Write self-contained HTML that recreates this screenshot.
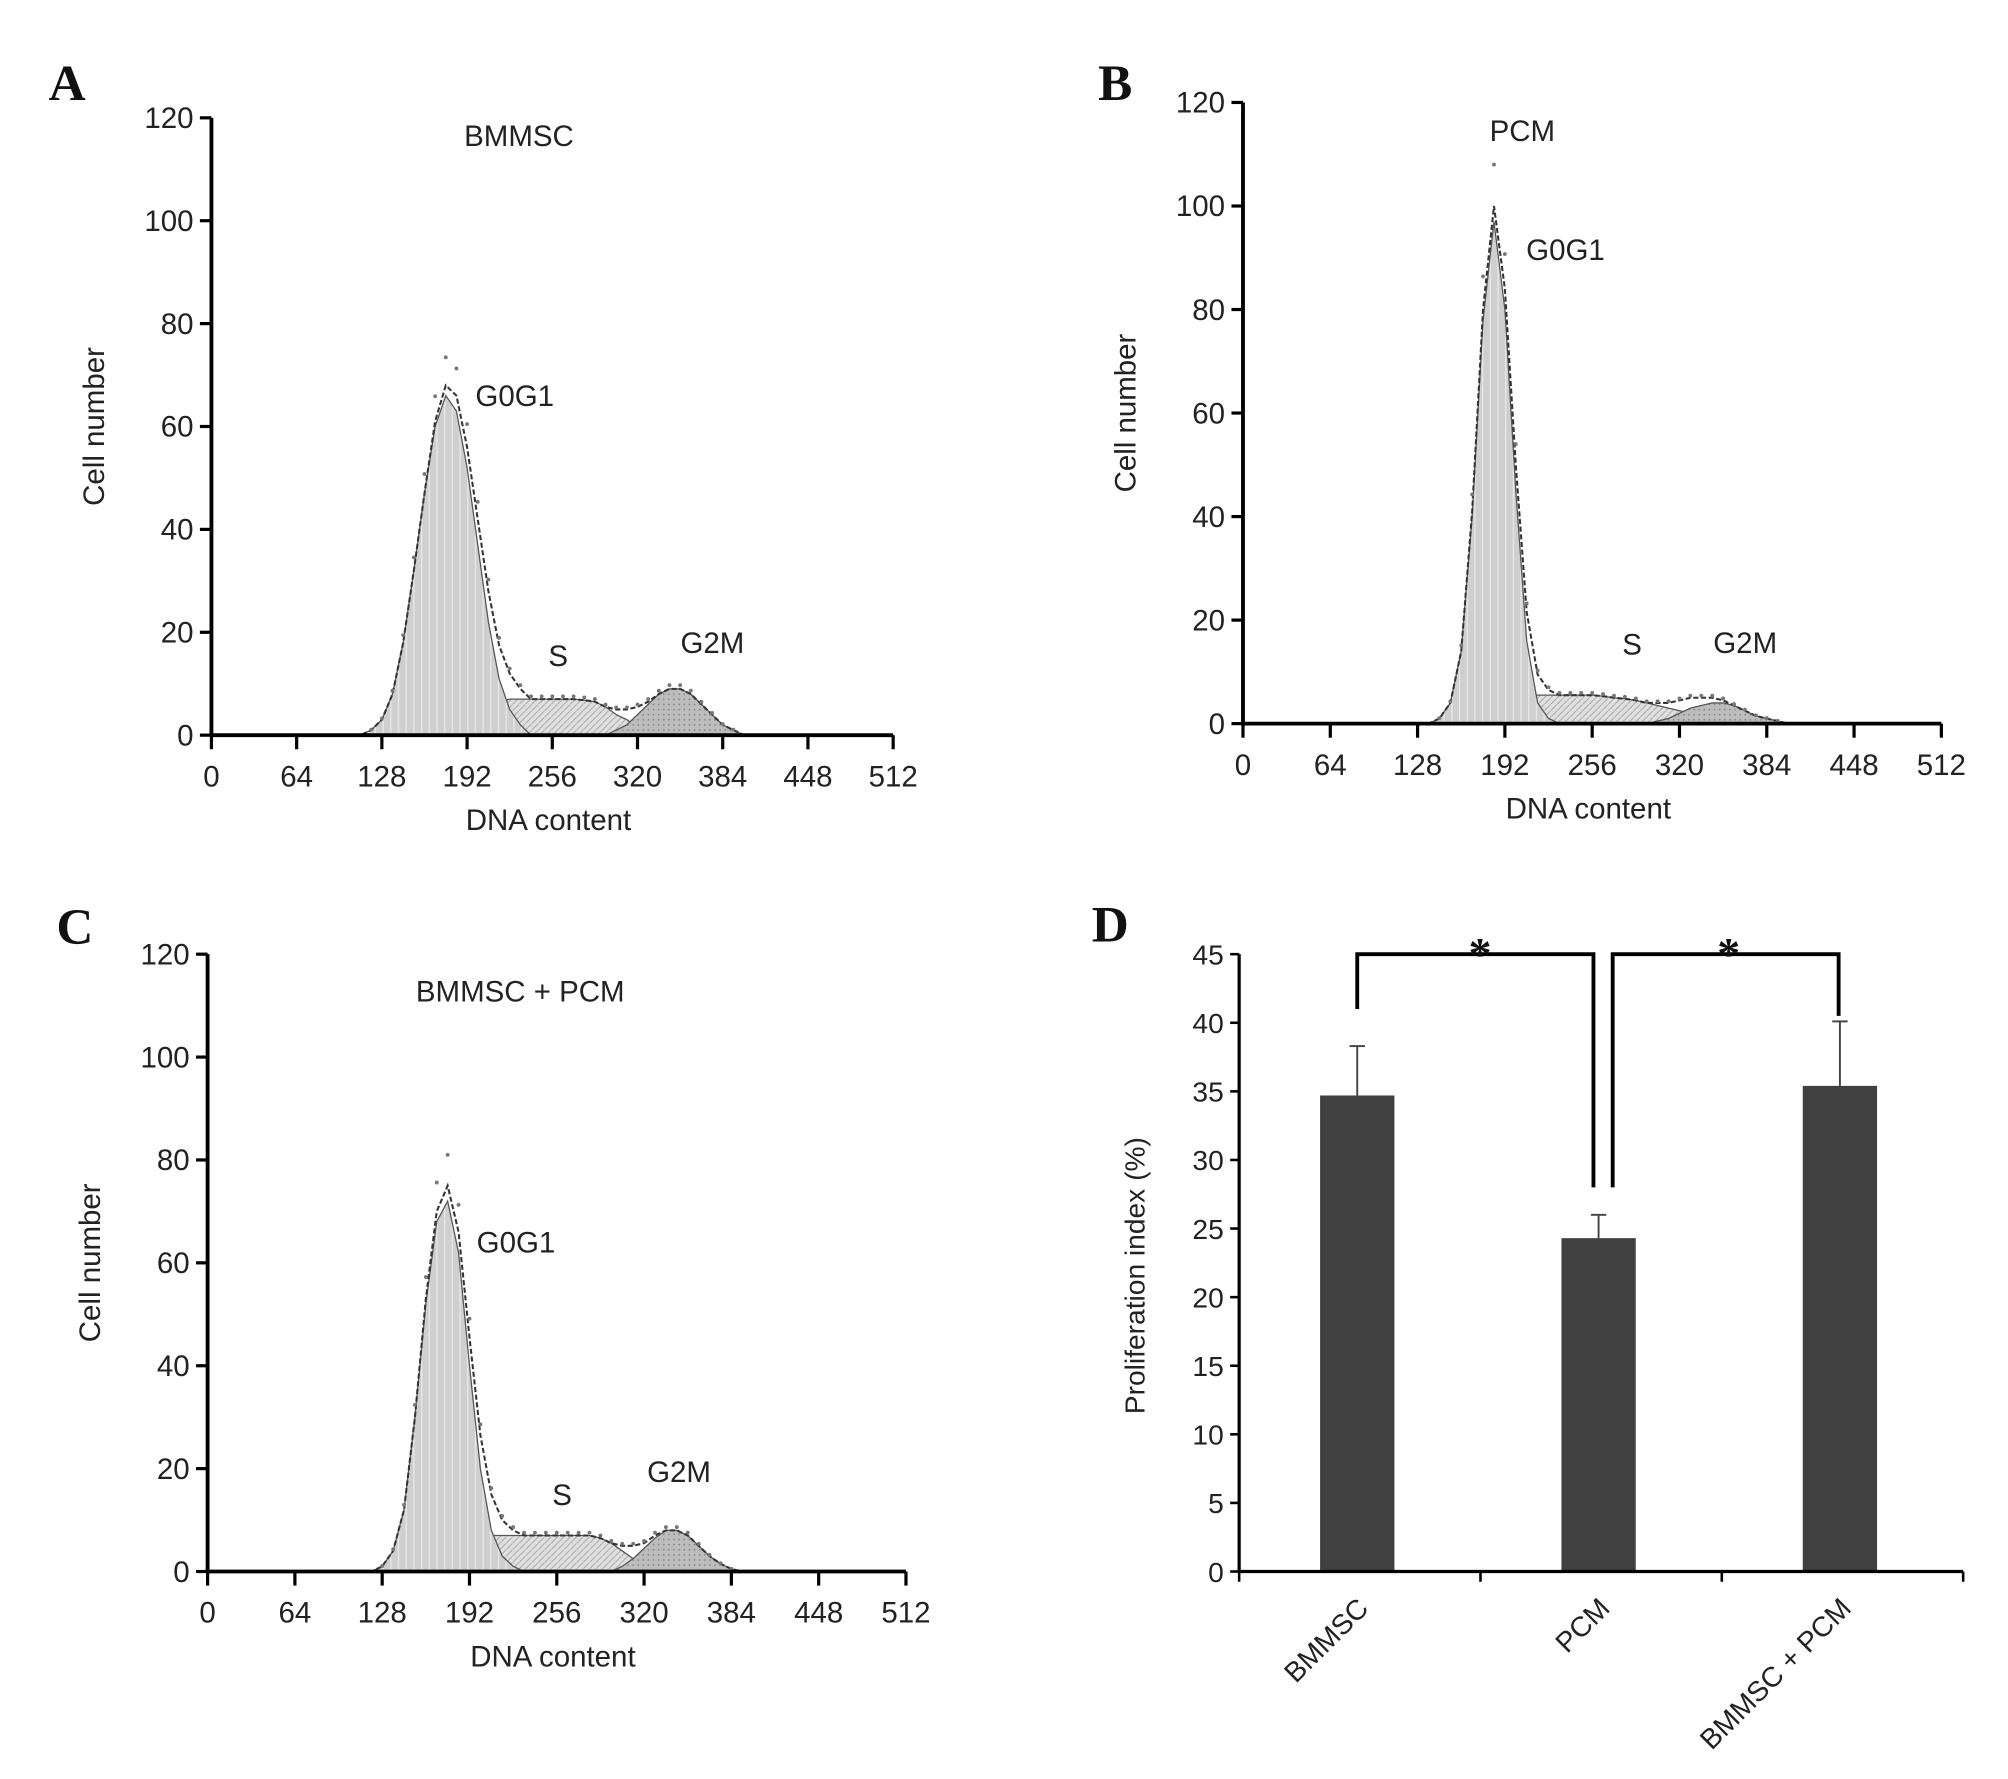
<!DOCTYPE html>
<html><head><meta charset="utf-8">
<style>
html,body{margin:0;padding:0;background:#fff;}
svg{display:block;}
text{font-family:"Liberation Sans",Arial,sans-serif;fill:#222;}
.lbl{font-family:"Liberation Serif","Times New Roman",serif;font-weight:bold;fill:#111;}
</style></head>
<body>
<svg id="fig" width="2008" height="1779" viewBox="0 0 1567 1389" preserveAspectRatio="none" xmlns="http://www.w3.org/2000/svg">
<defs>
<pattern id="pG1" width="6" height="6" patternUnits="userSpaceOnUse"><rect width="6" height="6" fill="#cfcfcf"/><line x1="5" y1="0" x2="5" y2="6" stroke="#e8e8e8" stroke-width="1"/></pattern>
<pattern id="pS" width="5" height="5" patternUnits="userSpaceOnUse"><rect width="5" height="5" fill="#e0e0e0"/><line x1="0" y1="5" x2="5" y2="0" stroke="#aaa" stroke-width="0.8"/></pattern>
<pattern id="pG2" width="4" height="4" patternUnits="userSpaceOnUse"><rect width="4" height="4" fill="#bdbdbd"/><circle cx="2" cy="2" r="0.7" fill="#888"/></pattern>
</defs>
</svg>
<script>
// ---- histogram data (channel bins every 8 units) ----
const histStart = 96;
const histStep = 8;
// Panel A (BMMSC)
const aG0G1 = [0,0,0,1,3,8,18,32,47,60,66,63,52,37,22,11,5,2,0,0,0,0,0,0,0,0,0,0,0,0,0,0,0,0,0,0,0,0,0,0,0];
const aS    = [0,0,0,0,0,0,0,0,0,1,2,3,4,5,6,6.5,7,7,7,7,7,7,7,6.8,6.5,5.5,4,3,1.5,0.5,0,0,0,0,0,0,0,0,0,0,0];
const aG2M  = [0,0,0,0,0,0,0,0,0,0,0,0,0,0,0,0,0,0,0,0,0,0,0,0,0,0,1,2,4,6,8,9,9,8,6,4,2,1,0,0,0];
// Panel B (PCM)
const bG0G1 = [0,0,0,0,0,0,1,4,14,40,78,97,80,45,16,4,1,0,0,0,0,0,0,0,0,0,0,0,0,0,0,0,0,0,0,0,0,0,0,0,0];
const bS    = [0,0,0,0,0,0,0,0,0,1,2,3,4,5,5.5,5.5,5.5,5.5,5.5,5.5,5.5,5.3,5,4.8,4.5,4,3.5,3,2.5,2,1.5,1,0.5,0,0,0,0,0,0,0,0];
const bG2M  = [0,0,0,0,0,0,0,0,0,0,0,0,0,0,0,0,0,0,0,0,0,0,0,0,0,0,0.5,1,2,3,3.5,4,4,3.5,2.5,1.5,1,0.5,0,0,0];
// Panel C (BMMSC + PCM)
const cG0G1 = [0,0,0,0,1,4,12,30,52,68,72,62,40,20,8,3,1,0,0,0,0,0,0,0,0,0,0,0,0,0,0,0,0,0,0,0,0,0,0,0,0];
const cS    = [0,0,0,0,0,0,0,0,1,2,3,4,5.5,6.5,7,7,7,7,7,7,7,7,7,7,6.5,5.5,4,2.5,1,0.5,0,0,0,0,0,0,0,0,0,0,0];
const cG2M  = [0,0,0,0,0,0,0,0,0,0,0,0,0,0,0,0,0,0,0,0,0,0,0,0,0,0,1,2.5,4.5,6.5,8,8,7,5,3,1.5,0.5,0,0,0,0];
const histYTicks = [0,20,40,60,80,100,120];
const histXTicks = [0,64,128,192,256,320,384,448,512];
// ---- bar chart data (panel D) ----
const barCats = ["BMMSC","PCM","BMMSC + PCM"];
const barVals = [34.7,24.3,35.4];
const barErr  = [3.6,1.7,4.7];
const barYTicks = [0,5,10,15,20,25,30,35,40,45];

const svg = document.getElementById('fig');
const NS = "http://www.w3.org/2000/svg";
function mk(tag, attrs, parent){
  const e = document.createElementNS(NS, tag);
  for (const k in attrs) e.setAttribute(k, attrs[k]);
  (parent||svg).appendChild(e);
  return e;
}
function txt(s, x, y, size, parent, anchor){
  const t = mk('text', {x:x, y:y, 'font-size':size, 'text-anchor':anchor||'middle'}, parent);
  t.textContent = s;
  return t;
}

function histPanel(id, letter, lx, ly, ox, oy, w, h, title, tx, ty, g1, s, g2, labels){
  const g = mk('g', {});
  
  
  const X = v => ox + v / 512 * w;
  const Y = v => oy - v / 120 * h;
  const L = mk('text', {x:lx, y:ly, 'font-size':40, class:'lbl'}, g);
  L.textContent = letter;
  
  
  function area(arr, fill, name){
    let d = 'M' + X(histStart) + ',' + Y(0);
    arr.forEach((v,i)=>{ d += ' L' + X(histStart + i*histStep).toFixed(2) + ',' + Y(v).toFixed(2); });
    d += ' L' + X(histStart + (arr.length-1)*histStep) + ',' + Y(0) + ' Z';
    const p = mk('path', {d:d, fill:fill, stroke:'#555', 'stroke-width':1}, g);
    
    
  }
  area(s, 'url(#pS)', 's-phase-area');
  area(g2, 'url(#pG2)', 'g2m-area');
  area(g1, 'url(#pG1)', 'g0g1-area');
  let d = '';
  const tot = g1.map((v,i)=> v + s[i] + g2[i]);
  tot.forEach((v,i)=>{ d += (i?' L':'M') + X(histStart + i*histStep).toFixed(2) + ',' + Y(v).toFixed(2); });
  const fit = mk('path', {d:d, fill:'none', stroke:'#333', 'stroke-width':1.6, 'stroke-dasharray':'4,2'}, g);
  
  
  tot.forEach((v,i)=>{
    if (v <= 0.2) return;
    const c = mk('circle', {cx:X(histStart + i*histStep), cy:Y(v*1.08), r:1.5, fill:'#777'}, g);
    
    
  });
  const ax = mk('line', {x1:ox, y1:oy, x2:ox+w, y2:oy, stroke:'#000', 'stroke-width':3}, g);
  
  
  const ay = mk('line', {x1:ox, y1:oy+1, x2:ox, y2:oy-h, stroke:'#000', 'stroke-width':3}, g);
  
  
  histYTicks.forEach(v=>{
    mk('line', {x1:ox-9, y1:Y(v), x2:ox, y2:Y(v), stroke:'#000', 'stroke-width':2.5}, g);
    const t = txt(String(v), ox-14, Y(v)+8, 23, g, 'end');
    
    
  });
  histXTicks.forEach(v=>{
    mk('line', {x1:X(v), y1:oy, x2:X(v), y2:oy+11, stroke:'#000', 'stroke-width':2.5}, g);
    const t = txt(String(v), X(v), oy+40, 23, g);
    
    
  });
  const xt = txt('DNA content', ox + w*0.5 - 3, oy+74, 23, g);
  
  
  const yt = txt('Cell number', 0, 0, 23, g);
  yt.setAttribute('transform', 'translate(' + (ox-84) + ',' + (oy - h*0.5) + ') rotate(-90)');
  
  
  const tt = txt(title, tx, ty, 23, g);
  
  
  labels.forEach(l=>{
    const t = txt(l[0], l[1], l[2], 23, g, 'start');
    
    
  });
}

histPanel('panel-a', 'A', 38, 78, 165, 574, 532, 482, 'BMMSC', 405, 114, aG0G1, aS, aG2M,
  [['G0G1',371,317],['S',428,520],['G2M',531,510]]);
histPanel('panel-b', 'B', 857, 78, 970, 565, 545, 485, 'PCM', 1188, 110, bG0G1, bS, bG2M,
  [['G0G1',1191,203],['S',1266,511],['G2M',1337,510]]);
histPanel('panel-c', 'C', 44, 737, 162, 1227, 545, 482, 'BMMSC + PCM', 406, 782, cG0G1, cS, cG2M,
  [['G0G1',372,978],['S',431,1175],['G2M',505,1157]]);

(function(){
  const g = mk('g', {});
  
  
  const ox = 967, oy = 1227, w = 565, h = 482;
  const Y = v => oy - v / 45 * h;
  const band = w / barCats.length;
  const Xc = i => ox + band * (i + 0.5);
  const L = mk('text', {x:852, y:735, 'font-size':40, class:'lbl'}, g);
  L.textContent = 'D';
  
  
  barVals.forEach((v,i)=>{
    const cx = Xc(i) - 2;
    const eb = mk('line', {x1:cx, y1:Y(v), x2:cx, y2:Y(v+barErr[i]), stroke:'#444', 'stroke-width':1.5}, g);
    
    
    mk('line', {x1:cx-6, y1:Y(v+barErr[i]), x2:cx+6, y2:Y(v+barErr[i]), stroke:'#444', 'stroke-width':1.5}, g);
    const r = mk('rect', {x:cx-29, y:Y(v), width:58, height:oy - Y(v), fill:'#404040'}, g);
    
    
  });
  const ax = mk('line', {x1:ox, y1:oy, x2:ox+w, y2:oy, stroke:'#000', 'stroke-width':2.5}, g);
  
  
  const ay = mk('line', {x1:ox, y1:oy+1, x2:ox, y2:oy-h, stroke:'#000', 'stroke-width':2.5}, g);
  
  
  barYTicks.forEach(v=>{
    mk('line', {x1:ox-7, y1:Y(v), x2:ox, y2:Y(v), stroke:'#000', 'stroke-width':2}, g);
    const t = txt(String(v), ox-12, Y(v)+8, 22, g, 'end');
    
    
  });
  for (let i=0;i<=barCats.length;i++){
    mk('line', {x1:ox+band*i, y1:oy, x2:ox+band*i, y2:oy+8, stroke:'#000', 'stroke-width':2}, g);
  }
  barCats.forEach((c,i)=>{
    const t = txt(c, 0, 0, 22, g, 'end');
    t.setAttribute('transform', 'translate(' + (Xc(i)+8) + ',' + (oy+30) + ') rotate(-45)');
    
    
  });
  const yt = txt('Proliferation index (%)', 0, 0, 22, g);
  yt.setAttribute('transform', 'translate(' + (ox-74) + ',' + (oy - h*0.5 + 10) + ') rotate(-90)');
  
  
  const top = Y(45);
  const b1 = mk('path', {d:'M'+(Xc(0)-2)+','+Y(41)+' V'+top+' H'+(Xc(1)-6)+' V'+Y(28), fill:'none', stroke:'#000', 'stroke-width':3}, g);
  
  
  const b2 = mk('path', {d:'M'+(Xc(1)+9)+','+Y(28)+' V'+top+' H'+(Xc(2)-3)+' V'+Y(40.5), fill:'none', stroke:'#000', 'stroke-width':3}, g);
  
  
  [[1155],[1349]].forEach(p=>{
    const s = mk('text', {x:p[0], y:top+12, 'font-size':36, 'text-anchor':'middle', class:'lbl'}, g);
    s.textContent = '*';
    
    
  });
})();
</script>
</body></html>
